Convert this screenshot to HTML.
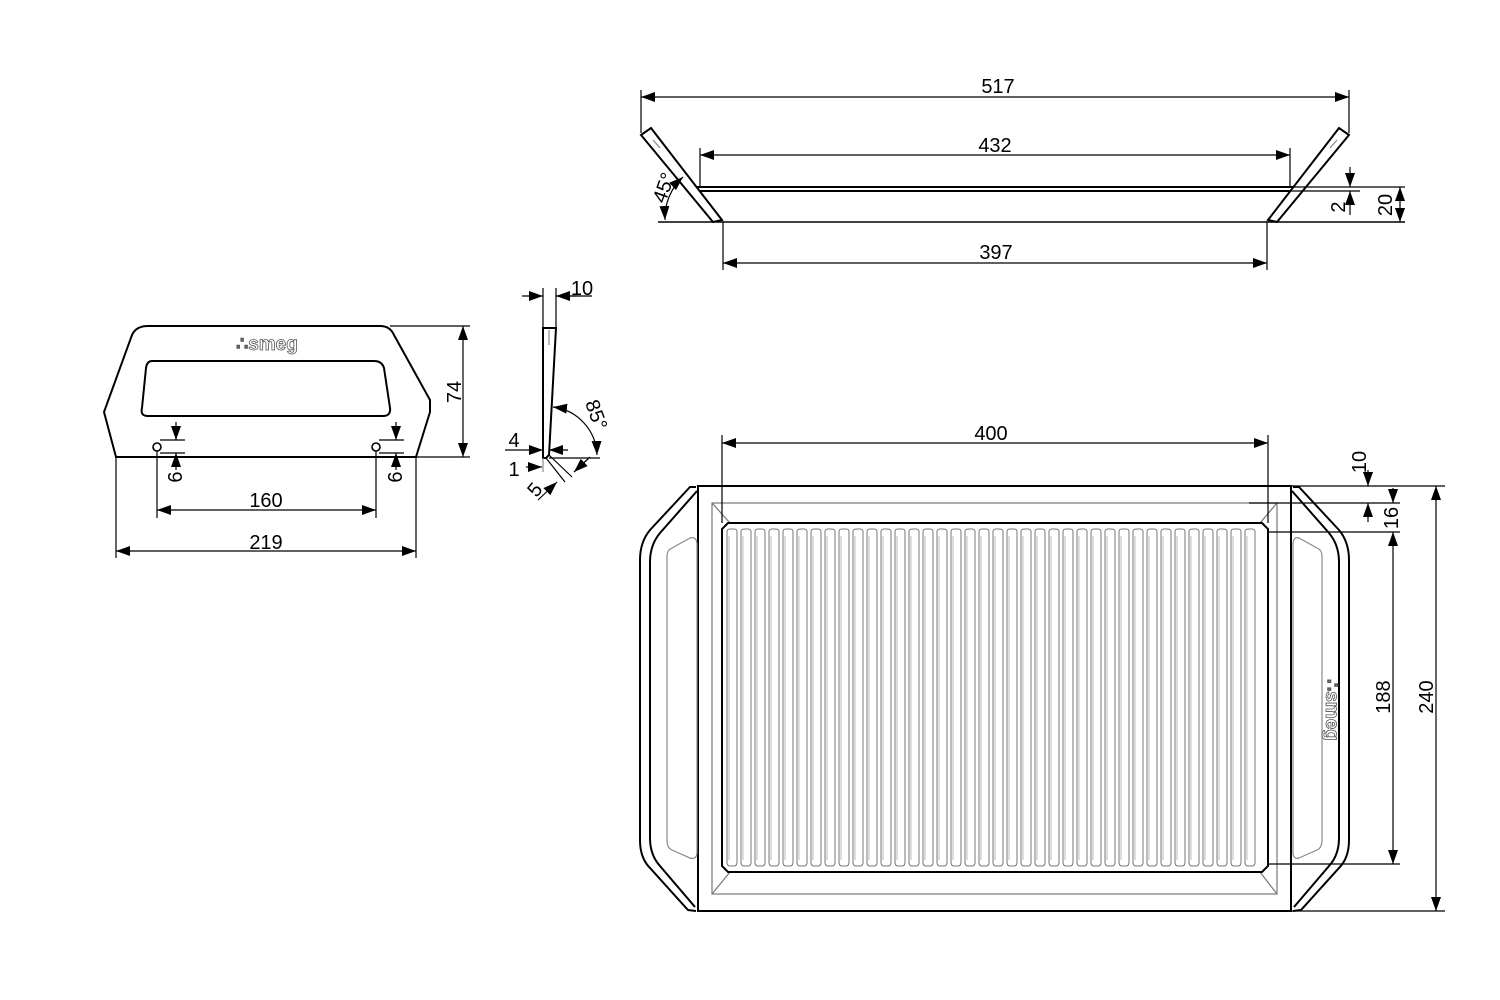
<!DOCTYPE html>
<html><head><meta charset="utf-8"><style>
html,body{margin:0;padding:0;background:#fff;}
svg{display:block;}
text{font-family:"Liberation Sans",Arial,sans-serif;font-size:20px;fill:#000;}
</style></head><body>
<svg width="1500" height="1000" viewBox="0 0 1500 1000" xmlns="http://www.w3.org/2000/svg">
<defs>
<marker id="a" viewBox="0 0 14 10" refX="14" refY="5" markerWidth="14" markerHeight="10" markerUnits="userSpaceOnUse" orient="auto-start-reverse"><path d="M0,0 L14,5 L0,10 z" fill="#000"/></marker>
</defs>
<g stroke="#000" fill="none" stroke-width="1.2">
<line x1="641" y1="90" x2="641" y2="133"/>
<line x1="1349" y1="90" x2="1349" y2="133"/>
<line x1="641" y1="97" x2="1349" y2="97" marker-start="url(#a)" marker-end="url(#a)"/>
<line x1="700" y1="148" x2="700" y2="187"/>
<line x1="1290" y1="148" x2="1290" y2="187"/>
<line x1="700" y1="155" x2="1290" y2="155" marker-start="url(#a)" marker-end="url(#a)"/>
<line x1="723" y1="222" x2="723" y2="270"/>
<line x1="1267" y1="222" x2="1267" y2="270"/>
<line x1="723" y1="263" x2="1267" y2="263" marker-start="url(#a)" marker-end="url(#a)"/>
<g stroke-width="2">
<path d="M641,135 L651,128 L722,220 L713,222 Z"/>
<path d="M1349,135 L1339,128 L1268,220 L1277,222 Z"/>
<line x1="697" y1="187" x2="1293" y2="187"/>
<line x1="700" y1="191" x2="1290" y2="191"/>
</g>
<line x1="658" y1="222" x2="1405" y2="222" stroke-width="1.6"/>
<line x1="1290" y1="187" x2="1405" y2="187"/>
<line x1="1290" y1="191" x2="1360" y2="191"/>
<line x1="1350" y1="167" x2="1350" y2="187" marker-end="url(#a)"/>
<line x1="1350" y1="215" x2="1350" y2="191" marker-end="url(#a)"/>
<line x1="1400" y1="204" x2="1400" y2="187" marker-end="url(#a)"/>
<line x1="1400" y1="204" x2="1400" y2="222" marker-end="url(#a)"/>
<path d="M683,177 A55,55 0 0 0 665,220" marker-start="url(#a)" marker-end="url(#a)"/>
<line x1="653" y1="140" x2="660" y2="148" stroke="#888"/>
<line x1="1337" y1="140" x2="1330" y2="148" stroke="#888"/>

<path d="M116,457 L104,412 L132,335 Q136,326 148,326 L380,326 Q390,326 394,335 L430,400 L430,412 L416,457 Z" stroke-width="2"/>
<path d="M152,361 L374,361 Q382,361 384,368 L390,408 Q391,416 383,416 L148,416 Q140,416 142,408 L146,368 Q147,361 152,361 Z" stroke-width="2"/>
<circle cx="157" cy="447" r="4" stroke-width="1.6"/>
<circle cx="376" cy="447" r="4" stroke-width="1.6"/>
<line x1="390" y1="326" x2="470" y2="326"/>
<line x1="416" y1="457" x2="470" y2="457"/>
<line x1="463" y1="392" x2="463" y2="326" marker-end="url(#a)"/>
<line x1="463" y1="392" x2="463" y2="457" marker-end="url(#a)"/>
<line x1="160" y1="440" x2="185" y2="440"/>
<line x1="160" y1="453" x2="185" y2="453"/>
<line x1="379" y1="440" x2="404" y2="440"/>
<line x1="379" y1="453" x2="404" y2="453"/>
<line x1="176" y1="422" x2="176" y2="440" marker-end="url(#a)"/>
<line x1="176" y1="470" x2="176" y2="453" marker-end="url(#a)"/>
<line x1="396" y1="422" x2="396" y2="440" marker-end="url(#a)"/>
<line x1="396" y1="470" x2="396" y2="453" marker-end="url(#a)"/>
<line x1="157" y1="451" x2="157" y2="518"/>
<line x1="376" y1="451" x2="376" y2="518"/>
<line x1="157" y1="510" x2="376" y2="510" marker-start="url(#a)" marker-end="url(#a)"/>
<line x1="116" y1="457" x2="116" y2="558"/>
<line x1="416" y1="457" x2="416" y2="558"/>
<line x1="116" y1="551" x2="416" y2="551" marker-start="url(#a)" marker-end="url(#a)"/>

<path d="M543,328 L556,328 L549,455 L546,458 L543,458 Z" stroke-width="2"/>
<line x1="549" y1="330" x2="549" y2="345" stroke="#888"/>
<line x1="543" y1="288" x2="543" y2="328"/>
<line x1="556" y1="288" x2="556" y2="328"/>
<line x1="522" y1="296" x2="543" y2="296" marker-end="url(#a)"/>
<line x1="577" y1="296" x2="556" y2="296" marker-end="url(#a)"/>
<line x1="556" y1="296" x2="592" y2="296"/>
<line x1="549" y1="458" x2="600" y2="458"/>
<path d="M553,407 A50,50 0 0 1 597,455" marker-start="url(#a)" marker-end="url(#a)"/>
<line x1="505" y1="450" x2="543" y2="450" marker-end="url(#a)"/>
<line x1="568" y1="450" x2="549" y2="450" marker-end="url(#a)"/>
<line x1="526" y1="467" x2="542" y2="467" marker-end="url(#a)"/>
<line x1="543" y1="458" x2="543" y2="472" stroke="#888"/>
<line x1="546" y1="458" x2="565" y2="482"/>
<line x1="549" y1="455" x2="572" y2="477"/>
<line x1="538" y1="500" x2="557" y2="482" marker-end="url(#a)"/>
<line x1="590" y1="457" x2="574" y2="472" marker-end="url(#a)"/>

<rect x="698" y="486" width="593" height="425" stroke-width="2"/>
<rect x="712" y="503" width="565" height="391" stroke="#777"/>
<line x1="712" y1="503" x2="730" y2="523" stroke="#777"/>
<line x1="1277" y1="503" x2="1260" y2="523" stroke="#777"/>
<line x1="712" y1="894" x2="730" y2="872" stroke="#777"/>
<line x1="1277" y1="894" x2="1260" y2="872" stroke="#777"/>
<path d="M728,523 L1262,523 L1268,529 L1268,866 L1262,872 L728,872 L722,866 L722,529 Z" stroke-width="2"/>
<g id="ribs" stroke="#777" stroke-width="1"></g>
<path d="M696,487 L690,487 L650,530 Q640,542 640,560 L640,840 Q640,858 650,868 L688,910 L696,911" stroke-width="2"/>
<path d="M697,491 L660,533 Q650,545 650,562 L650,838 Q650,855 660,866 L695,907" stroke-width="2"/>
<path d="M672,548 L690,538 Q697,536 697,545 L697,852 Q697,860 690,858 L672,850 Q667,848 667,840 L667,556 Q667,550 672,548 Z" stroke="#888"/>
<path d="M1293,487 L1299,487 L1339,530 Q1349,542 1349,560 L1349,840 Q1349,858 1339,868 L1301,910 L1293,911" stroke-width="2"/>
<path d="M1292,491 L1329,533 Q1339,545 1339,562 L1339,838 Q1339,855 1329,866 L1294,907" stroke-width="2"/>
<path d="M1317,548 L1299,538 Q1293,536 1293,545 L1293,852 Q1293,860 1299,858 L1317,850 Q1322,848 1322,840 L1322,556 Q1322,550 1317,548 Z" stroke="#888"/>
<line x1="722" y1="435" x2="722" y2="523"/>
<line x1="1268" y1="435" x2="1268" y2="523"/>
<line x1="722" y1="443" x2="1268" y2="443" marker-start="url(#a)" marker-end="url(#a)"/>
<line x1="1291" y1="486" x2="1445" y2="486"/>
<line x1="1249" y1="503" x2="1400" y2="503"/>
<line x1="1268" y1="532" x2="1400" y2="532"/>
<line x1="1268" y1="864" x2="1400" y2="864"/>
<line x1="1291" y1="911" x2="1445" y2="911"/>
<line x1="1368" y1="470" x2="1368" y2="486" marker-end="url(#a)"/>
<line x1="1368" y1="522" x2="1368" y2="503" marker-end="url(#a)"/>
<line x1="1393" y1="488" x2="1393" y2="503" marker-end="url(#a)"/>
<line x1="1393" y1="700" x2="1393" y2="532" marker-end="url(#a)"/>
<line x1="1393" y1="700" x2="1393" y2="864" marker-end="url(#a)"/>
<line x1="1436" y1="700" x2="1436" y2="486" marker-end="url(#a)"/>
<line x1="1436" y1="700" x2="1436" y2="911" marker-end="url(#a)"/>
</g>
<text x="998" y="93" text-anchor="middle">517</text>
<text x="995" y="152" text-anchor="middle">432</text>
<text x="996" y="259" text-anchor="middle">397</text>
<text transform="translate(670,190) rotate(-70)" text-anchor="middle">45°</text>
<text transform="translate(1345,207) rotate(-90)" text-anchor="middle">2</text>
<text transform="translate(1392,205) rotate(-90)" text-anchor="middle">20</text>
<text x="267" y="350" text-anchor="middle" style="font-size:19px;fill:#fff;stroke:#555;stroke-width:0.8;font-weight:bold">∴smeg</text>
<text transform="translate(461,392) rotate(-90)" text-anchor="middle">74</text>
<text transform="translate(182,477) rotate(-90)" text-anchor="middle">6</text>
<text transform="translate(402,477) rotate(-90)" text-anchor="middle">6</text>
<text x="266" y="507" text-anchor="middle">160</text>
<text x="266" y="549" text-anchor="middle">219</text>
<text x="582" y="295" text-anchor="middle">10</text>
<text transform="translate(590,417) rotate(70)" text-anchor="middle">85°</text>
<text x="514" y="447" text-anchor="middle">4</text>
<text x="514" y="476" text-anchor="middle">1</text>
<text transform="translate(540,494) rotate(-50)" text-anchor="middle">5</text>
<text x="991" y="440" text-anchor="middle">400</text>
<text transform="translate(1366,462) rotate(-90)" text-anchor="middle">10</text>
<text transform="translate(1398,518) rotate(-90)" text-anchor="middle">16</text>
<text transform="translate(1390,697) rotate(-90)" text-anchor="middle">188</text>
<text transform="translate(1433,697) rotate(-90)" text-anchor="middle">240</text>
<text transform="translate(1326,710) rotate(90)" text-anchor="middle" style="font-size:19px;fill:#fff;stroke:#555;stroke-width:0.8;font-weight:bold">∴smeg</text>
</svg>
<script>
(function(){var g=document.getElementById('ribs'),s='';
for(var i=0;i<39;i++){var x=727+14*i;if(x+10>1266)break;
s+='<path d="M'+x+',535 L'+x+',532 Q'+x+',529 '+(x+3)+',529 L'+(x+7)+',529 Q'+(x+10)+',529 '+(x+10)+',532 L'+(x+10)+',535"/>';
s+='<line x1="'+x+'" y1="533" x2="'+x+'" y2="863"/><line x1="'+(x+10)+'" y1="533" x2="'+(x+10)+'" y2="863"/><line x1="'+(x+2)+'" y1="536" x2="'+(x+2)+'" y2="860" stroke="#bbb"/>';
s+='<path d="M'+x+',862 Q'+x+',866 '+(x+3)+',866 L'+(x+7)+',866 Q'+(x+10)+',866 '+(x+10)+',862"/>';}
g.innerHTML=s;})();
</script>
</body></html>
